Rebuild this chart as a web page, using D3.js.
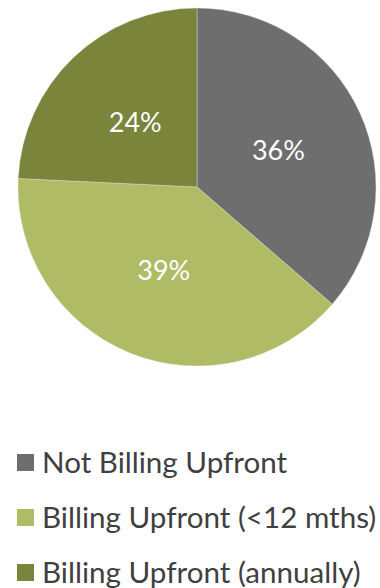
<!DOCTYPE html>
<html>
<head>
<meta charset="utf-8">
<script src="https://cdn.jsdelivr.net/npm/d3@7"></script>
<style>
  html, body { margin: 0; padding: 0; background: #fff; }
  svg { display: block; }
  text { font-family: Lato, "Open Sans", sans-serif; }
</style>
</head>
<body>
<svg id="chart" width="380" height="588"></svg>
<script>
// Billing model split
const categories = ["Not Billing Upfront", "Billing Upfront (<12 mths)", "Billing Upfront (annually)"];
const shares = [36, 39, 24];
const sliceColors = ["#6e6e6e", "#b0bb66", "#7a843b"];

const width = 380, height = 588;
const cx = 197, cy = 187, radius = 179;

const svg = d3.select("#chart");

const color = d3.scaleOrdinal().domain(categories).range(sliceColors);

const pie = d3.pie().sort(null).value(d => d.value);
const arcs = pie(categories.map((c, i) => ({ name: c, value: shares[i] })));

const arc = d3.arc().innerRadius(0).outerRadius(radius);
const labelArc = d3.arc().innerRadius(radius * 0.5).outerRadius(radius * 0.5);

const g = svg.append("g").attr("transform", `translate(${cx},${cy})`);

g.selectAll("path.slice")
  .data(arcs)
  .join("path")
  .attr("class", "slice")
  .attr("d", arc)
  .attr("fill", d => color(d.data.name))
  .attr("stroke", "#e6e6e6")
  .attr("stroke-width", 0.4);

g.selectAll("text.pct")
  .data(arcs)
  .join("text")
  .attr("class", "pct")
  .attr("transform", d => `translate(${labelArc.centroid(d)})`)
  .attr("text-anchor", "middle")
  .attr("dy", "0.36em")
  .attr("fill", "#fff")
  .attr("font-size", 27)
  .text(d => d.data.value + "%");

// Legend below the pie
const legendY = d3.scalePoint().domain(categories).range([462.5, 572.5]);

const legend = svg.append("g");
const item = legend.selectAll("g.item")
  .data(categories)
  .join("g")
  .attr("class", "item")
  .attr("transform", d => `translate(17,${legendY(d)})`);

item.append("rect")
  .attr("x", 0)
  .attr("y", -8.5)
  .attr("width", 17)
  .attr("height", 17)
  .attr("fill", d => color(d));

item.append("text")
  .attr("x", 25)
  .attr("y", 0)
  .attr("dy", "0.36em")
  .attr("fill", "#404040")
  .attr("font-size", 29.6)
  .text(d => d);
</script>
</body>
</html>
